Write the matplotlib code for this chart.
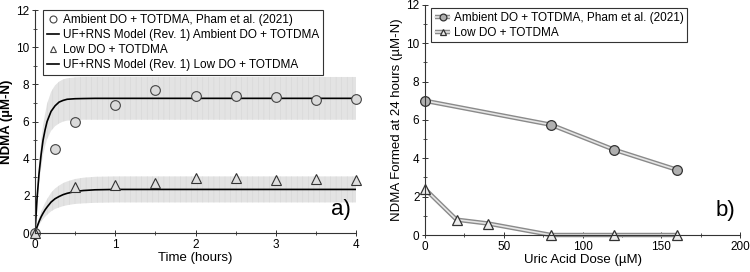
import matplotlib
matplotlib.use("Agg")
import matplotlib.pyplot as plt
from matplotlib.ticker import MultipleLocator
from matplotlib.lines import Line2D

plt.rcParams['font.family'] = ['Liberation Sans', 'DejaVu Sans']
plt.rcParams['hatch.linewidth'] = 0.4

# ---- Panel a data ----
t_amb = [0, 0.25, 0.5, 1, 1.5, 2, 2.5, 3, 3.5, 4]
ndma_amb = [0, 4.5, 6.0, 6.9, 7.7, 7.4, 7.4, 7.3, 7.15, 7.2]
t_low = [0, 0.5, 1, 1.5, 2, 2.5, 3, 3.5, 4]
ndma_low = [0, 2.5, 2.6, 2.7, 2.95, 2.95, 2.85, 2.9, 2.85]

t_model = [0, 0.025, 0.05, 0.075, 0.1, 0.125, 0.15, 0.2, 0.25, 0.3, 0.35, 0.4, 0.5, 0.6, 0.75, 1, 1.5, 2, 3, 4]
model_amb = [0, 1.85, 3.2, 4.2, 5.0, 5.55, 6.0, 6.55, 6.85, 7.05, 7.14, 7.2, 7.23, 7.24, 7.25, 7.25, 7.25, 7.25, 7.25, 7.25]
band_amb_hi = [0, 2.15, 3.7, 4.85, 5.8, 6.4, 6.95, 7.6, 7.95, 8.15, 8.27, 8.33, 8.38, 8.4, 8.4, 8.4, 8.4, 8.4, 8.4, 8.4]
band_amb_lo = [0, 1.55, 2.7, 3.5, 4.2, 4.65, 5.05, 5.5, 5.75, 5.9, 6.0, 6.05, 6.08, 6.1, 6.1, 6.1, 6.1, 6.1, 6.1, 6.1]
model_low = [0, 0.33, 0.62, 0.87, 1.07, 1.25, 1.4, 1.67, 1.85, 1.97, 2.07, 2.14, 2.24, 2.29, 2.33, 2.35, 2.35, 2.35, 2.35, 2.35]
band_low_hi = [0, 0.43, 0.8, 1.13, 1.39, 1.62, 1.82, 2.17, 2.4, 2.56, 2.69, 2.78, 2.91, 2.98, 3.03, 3.05, 3.05, 3.05, 3.05, 3.05]
band_low_lo = [0, 0.23, 0.43, 0.61, 0.75, 0.87, 0.98, 1.17, 1.3, 1.38, 1.45, 1.5, 1.57, 1.6, 1.63, 1.65, 1.65, 1.65, 1.65, 1.65]

# ---- Panel b data ----
dose_amb = [0, 80, 120, 160]
final_amb = [7.0, 5.75, 4.45, 3.4]
dose_low = [0, 20, 40, 80, 120, 160]
final_low = [2.4, 0.8, 0.6, 0.0, 0.0, 0.0]

fig = plt.figure(figsize=(7.5, 2.72), dpi=100)
ax1 = fig.add_axes([0.0467, 0.143, 0.428, 0.82])
ax2 = fig.add_axes([0.5667, 0.136, 0.42, 0.846])

band_col = '#e3e3e3'
ax1.fill_between(t_model, band_amb_lo, band_amb_hi, color=band_col, lw=0, hatch='|||', edgecolor='#d6d6d6')
ax1.fill_between(t_model, band_low_lo, band_low_hi, color=band_col, lw=0, hatch='|||', edgecolor='#d6d6d6')
l_mamb, = ax1.plot(t_model, model_amb, color='black', lw=1.2)
l_mlow, = ax1.plot(t_model, model_low, color='black', lw=1.2)
l_amb, = ax1.plot(t_amb, ndma_amb, 'o', mfc='#dadada', mec='#444444', mew=0.8, ms=7, ls='none', clip_on=False)
l_low, = ax1.plot(t_low, ndma_low, '^', mfc='#dedede', mec='#333333', mew=0.8, ms=7, ls='none', clip_on=False)

h_amb = Line2D([], [], marker='o', ls='none', mfc='white', mec='#444444', mew=0.8, ms=5)
h_low = Line2D([], [], marker='^', ls='none', mfc='white', mec='#444444', mew=0.8, ms=5)

ax1.set_xlim(0, 4)
ax1.set_ylim(0, 12)
ax1.xaxis.set_major_locator(MultipleLocator(1))
ax1.xaxis.set_minor_locator(MultipleLocator(0.5))
ax1.yaxis.set_major_locator(MultipleLocator(2))
ax1.yaxis.set_minor_locator(MultipleLocator(1))
ax1.set_xlabel('Time (hours)', fontsize=9.5, labelpad=1)
ax1.set_ylabel('NDMA (µM-N)', fontsize=9.5, labelpad=2, fontweight='bold')
ax1.text(0.985, 0.06, 'a)', transform=ax1.transAxes, ha='right', va='bottom', fontsize=16)
leg1 = ax1.legend([h_amb, l_mamb, h_low, l_mlow],
                  ['Ambient DO + TOTDMA, Pham et al. (2021)',
                   'UF+RNS Model (Rev. 1) Ambient DO + TOTDMA',
                   'Low DO + TOTDMA',
                   'UF+RNS Model (Rev. 1) Low DO + TOTDMA'],
                  loc='upper left', bbox_to_anchor=(0.025, 1.0), fontsize=8.5,
                  frameon=True, fancybox=False, edgecolor='#333333', framealpha=1,
                  handlelength=1.0, handletextpad=0.3, labelspacing=0.25, borderpad=0.35,
                  borderaxespad=0.0)
leg1.get_frame().set_linewidth(0.8)

# Panel b
def dbl(ax, x, y, marker, mfc):
    base, = ax.plot(x, y, '-', color='#8a8a8a', lw=3.2, solid_capstyle='butt', clip_on=False)
    top, = ax.plot(x, y, '-', color='#e6e6e6', lw=1.2, marker=marker, mfc=mfc, mec='#333333',
                   mew=0.9, ms=7, clip_on=False)
    return base, top

b1 = dbl(ax2, dose_amb, final_amb, 'o', '#b0b0b0')
b2 = dbl(ax2, dose_low, final_low, '^', '#ececec')
ax2.set_xlim(0, 200)
ax2.set_ylim(0, 12)
ax2.xaxis.set_major_locator(MultipleLocator(50))
ax2.xaxis.set_minor_locator(MultipleLocator(25))
ax2.yaxis.set_major_locator(MultipleLocator(2))
ax2.yaxis.set_minor_locator(MultipleLocator(1))
ax2.set_xlabel('Uric Acid Dose (µM)', fontsize=9.5, labelpad=1)
ax2.set_ylabel('NDMA Formed at 24 hours (µM-N)', fontsize=9.5, labelpad=2)
ax2.text(0.985, 0.06, 'b)', transform=ax2.transAxes, ha='right', va='bottom', fontsize=16)
leg2 = ax2.legend([b1, b2], ['Ambient DO + TOTDMA, Pham et al. (2021)', 'Low DO + TOTDMA'],
                  loc='upper left', bbox_to_anchor=(0.02, 0.985), fontsize=8.5,
                  frameon=True, fancybox=False, edgecolor='#333333', framealpha=1,
                  handlelength=1.3, handletextpad=0.3, labelspacing=0.25, borderpad=0.3,
                  markerscale=0.7, borderaxespad=0.0)
leg2.get_frame().set_linewidth(0.8)

for ax in (ax1, ax2):
    for s in ('top', 'right'):
        ax.spines[s].set_visible(False)
    for s in ('left', 'bottom'):
        ax.spines[s].set_linewidth(0.8)
        ax.spines[s].set_color('#333333')
    ax.tick_params(which='major', direction='inout', length=4, width=0.7, labelsize=8.5, pad=2, color='#333333')
    ax.tick_params(which='minor', direction='inout', length=2.5, width=0.6, color='#333333')

fig.savefig('out.png', dpi=100)
